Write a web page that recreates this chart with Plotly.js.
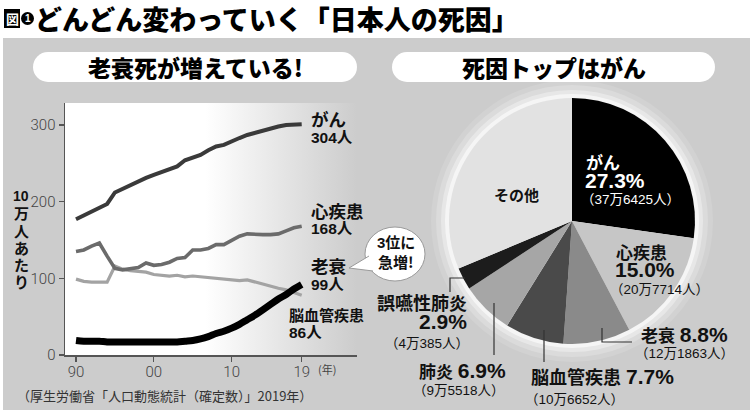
<!DOCTYPE html>
<html><head><meta charset="utf-8">
<script src="https://cdn.plot.ly/plotly-3.0.1.min.js"></script>
<style>html,body{margin:0;padding:0;background:#fff}#c{width:750px;height:414px}</style>
</head><body><div id="c"></div>
<script>
// ---- data ----
const years = [1990,1991,1992,1993,1994,1995,1996,1997,1998,1999,2000,2001,2002,2003,2004,2005,2006,2007,2008,2009,2010,2011,2012,2013,2014,2015,2016,2017,2018,2019];
const cancer   = [177,182,187,191,197,212,217,221,226,231,235,239,242,246,254,258,261,267,272,274,279,283,287,290,293,296,298,300,300,301];
const heart    = [135,137,142,146,129,113,111,112,114,120,117,118,121,126,127,137,137,139,144,144,150,155,158,157,157,157,158,162,166,168];
const cerebro  = [99,96,95,95,95,116,112,110,109,108,105,104,103,104,102,103,102,101,100,98,97,97,98,95,92,89,87,85,82,78];
const senility = [19,18,18,18,17,17,17,17,17,17,17,17,17,17,18,19,21,24,28,31,35,40,46,52,59,66,73,79,86,92];
const xTickVals = [1990,2000,2010,2019];
const xTickText = ['90','00','10','19'];
const yTickVals = [0,100,200,300];

const pieLabels = ['がん','心疾患','老衰','脳血管疾患','肺炎','誤嚥性肺炎','その他'];
const pieValues = [376425,207714,121863,106652,95518,40385,432536];

// ---- layout helpers ----
const W=750,H=414;
const X=x=>x/W, Y=y=>1-y/H;
const JP='Noto Sans CJK JP';
const LAT='Liberation Sans, Noto Sans CJK JP';
function T(text,x,y,size,o){o=o||{};return {xref:'paper',yref:'paper',x:X(x),y:Y(y),text:text,showarrow:false,
  xanchor:o.anchor||'left',yanchor:'middle',borderpad:0,
  font:{family:o.family||JP,size:size,color:o.color||'#111',weight:(o.weight===undefined?'bold':o.weight)}};}
function R(x0,y0,x1,y1,c,layer){return {type:'rect',xref:'paper',yref:'paper',x0:X(x0),x1:X(x1),y0:Y(y1),y1:Y(y0),fillcolor:c,line:{width:0},layer:layer||'below'};}
function C(cx,cy,rx,ry,c,op,line,layer){return {type:'circle',xref:'paper',yref:'paper',x0:X(cx-rx),x1:X(cx+rx),y0:Y(cy+ry),y1:Y(cy-ry),fillcolor:c,opacity:op,line:line||{width:0},layer:layer||'below'};}
function P(pts,close,fill,line,layer){let d='M'+pts.map(p=>X(p[0])+','+Y(p[1])).join(' L')+(close?' Z':'');
  return {type:'path',xref:'paper',yref:'paper',path:d,fillcolor:fill||'rgba(0,0,0,0)',line:line||{width:0},layer:layer||'above'};}

const grad = "<svg xmlns='http://www.w3.org/2000/svg' width='100' height='100' viewBox='0 0 100 100' preserveAspectRatio='none'><defs><linearGradient id='g' x1='0' x2='1' y1='0' y2='0'><stop offset='0' stop-color='#ffffff'/><stop offset='0.48' stop-color='#ffffff'/><stop offset='1' stop-color='#cccccc'/></linearGradient></defs><rect width='100' height='100' fill='url(#g)'/></svg>";

const pcx=572,pcy=221,pr=123;

const lineTrace=(y,color,width,shape)=>({type:'scatter',mode:'lines',x:years,y:y,line:{color:color,width:width,shape:shape||'linear'},hoverinfo:'skip',cliponaxis:false});

const data=[
  lineTrace(cerebro,'#a3a3a3',3.2),
  lineTrace(heart,'#6b6b6b',3.6),
  lineTrace(cancer,'#3a3a3a',4),
  lineTrace(senility,'#000000',7,'spline'),
  {type:'pie',labels:pieLabels,values:pieValues,sort:false,direction:'clockwise',rotation:0,
   textinfo:'none',hoverinfo:'skip',showlegend:false,
   marker:{colors:['#000000','#c6c6c6','#8a8a8a','#4a4a4a','#a6a6a6','#1c1c1c','#e2e2e2'],line:{width:0}},
   domain:{x:[X(pcx-pr),X(pcx+pr)],y:[Y(pcy+pr),Y(pcy-pr)]}}
];

const shapes=[
  R(0,0,750,38,'#ffffff'),R(0,410,750,414,'#ffffff'),R(0,0,3,414,'#ffffff'),
  R(4,9,20,28,'#000000','above'),
  C(27.5,18.5,6.5,6.5,'#000',1,null,'above'),
  C(48,67,15,15,'#fff',1),R(48,52,342,82,'#fff'),C(342,67,15,15,'#fff',1),
  C(407,67,15,15,'#fff',1),R(407,52,700,82,'#fff'),C(700,67,15,15,'#fff',1),
  C(pcx,pcy,pr+18,pr+18,'#fff',0.12),C(pcx,pcy,pr+13,pr+13,'#fff',0.2),
  C(pcx,pcy,pr+8,pr+8,'#fff',0.35),C(pcx,pcy,pr+4,pr+4,'#fff',0.6),
  // speech bubble
  C(395,254,30,27,'#fff',1,{color:'#9a9a9a',width:1},'above'),
  P([[369,256],[349,268],[373,271]],false,'#ffffff',{color:'#9a9a9a',width:1}),
  // leader lines
  P([[465,278],[450,278],[450,292]],false,null,{color:'#333',width:1.2}),
  P([[494,303],[494,355]],false,null,{color:'#333',width:1.2}),
  P([[544,330],[544,362]],false,null,{color:'#333',width:1.2}),
  P([[602,328],[602,342],[632,342]],false,null,{color:'#333',width:1.2})
];

const ann=[
  T('図',12,18.5,13,{anchor:'center',color:'#fff'}),
  T('1',27.5,18.5,10,{anchor:'center',color:'#fff',family:LAT}),
  T('どんどん変わっていく「日本人の死因」',34,19,27,{weight:900,color:'#000'}),
  T('老衰死が増えている!',195,67,23,{anchor:'center',weight:900,color:'#000'}),
  T('死因トップはがん',554,67,23,{anchor:'center',weight:900,color:'#000'}),
  // y title
  T('10',21,196,14,{anchor:'center',family:LAT}),
  T('万',21,213,15,{anchor:'center'}),T('人',21,230,15,{anchor:'center'}),
  T('あ',21,247,15,{anchor:'center'}),T('た',21,264,15,{anchor:'center'}),T('り',21,281,15,{anchor:'center'}),
  T('(年)',317,369,11,{weight:'normal',color:'#444'}),
  // line labels
  T('がん',310,119,17.5),T('304人',310,137,15.5,{family:LAT}),
  T('心疾患',310,210,17.5),T('168人',310,228,15.5,{family:LAT}),
  T('老衰',310,265,17.5),T('99人',310,284,15.5,{family:LAT}),
  T('脳血管疾患',288,314,15),T('86人',288,332,15.5,{family:LAT}),
  T('3位に',396,242,15,{anchor:'center',family:LAT}),T('急増!',396,261,15,{anchor:'center'}),
  // pie labels
  T('がん',585,162,17,{color:'#fff'}),
  T('27.3%',584,181,21,{color:'#fff',family:LAT}),
  T('（37万6425人）',580,200,13.5,{color:'#fff',family:LAT,weight:'normal'}),
  T('その他',516,194,15,{anchor:'center'}),
  T('心疾患',615,251,17),
  T('15.0%',614,269,21,{family:LAT}),
  T('（20万7714人）',609,289,13.5,{family:LAT,weight:'normal'}),
  T('老衰 <span style="font-size:21px">8.8%</span>',640,334,17,{family:LAT}),
  T('（12万1863人）',634,353,13.5,{family:LAT,weight:'normal'}),
  T('誤嚥性肺炎',468,302,18,{anchor:'right'}),
  T('2.9%',468,321,21,{anchor:'right',family:LAT}),
  T('（4万385人）',470,343,13.5,{anchor:'right',family:LAT,weight:'normal'}),
  T('肺炎 <span style="font-size:21px">6.9%</span>',418,370,17,{family:LAT}),
  T('（9万5518人）',412,390,13.5,{family:LAT,weight:'normal'}),
  T('脳血管疾患 <span style="font-size:21px">7.7%</span>',530,376,18,{family:LAT}),
  T('（10万6652人）',524,399,13.5,{family:LAT,weight:'normal'}),
  T('（厚生労働省「人口動態統計（確定数）」2019年）',16,395,13,{weight:'normal',color:'#333'})
];

const pxPerYear=(301.7-76)/(2019-1990);
const pxPerUnit=(355-125)/300;
const tickfont={family:'Roboto',size:15,color:'#444',weight:300};
const layout={
  width:W,height:H,margin:{l:0,r:0,t:0,b:0},
  paper_bgcolor:'#cccccc',plot_bgcolor:'rgba(0,0,0,0)',showlegend:false,
  font:{family:JP},
  xaxis:{domain:[X(65),X(357)],range:[1990-(76-65)/pxPerYear,2019+(357-301.7)/pxPerYear],
    tickvals:xTickVals,ticktext:xTickText,ticks:'outside',ticklen:5,tickwidth:1.3,tickcolor:'#555',
    ticklabelstandoff:-3,
    showline:true,linecolor:'#555',linewidth:1.5,showgrid:false,zeroline:false,
    tickfont:tickfont,fixedrange:true},
  yaxis:{domain:[Y(355),Y(103)],range:[0,(355-103)/pxPerUnit],
    tickvals:yTickVals,ticks:'outside',ticklen:5,tickwidth:1.3,tickcolor:'#555',
    showline:true,linecolor:'#555',linewidth:1.5,showgrid:false,zeroline:false,
    tickfont:tickfont,fixedrange:true},
  images:[{source:'data:image/svg+xml;charset=utf-8,'+encodeURIComponent(grad),xref:'paper',yref:'paper',
    x:X(65),y:Y(103),sizex:X(357)-X(65),sizey:Y(103)-Y(355),xanchor:'left',yanchor:'top',sizing:'stretch',layer:'below'}],
  shapes:shapes,annotations:ann,hovermode:false
};
Plotly.newPlot('c',data,layout,{staticPlot:true,displayModeBar:false});
</script></body></html>
